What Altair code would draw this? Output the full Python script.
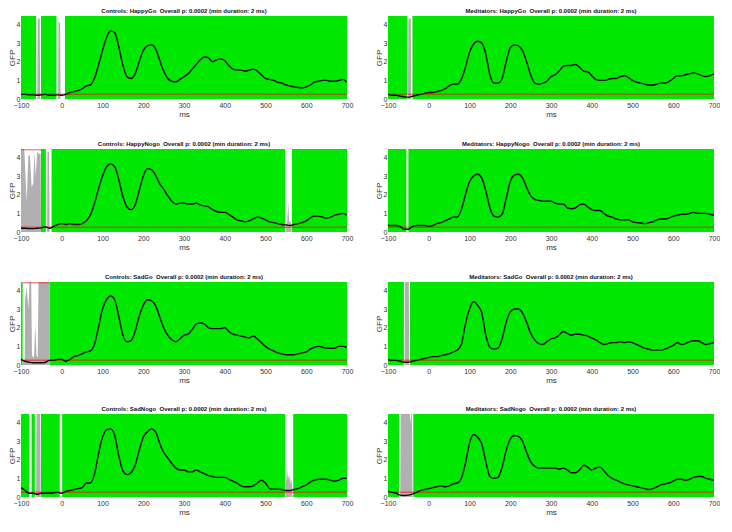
import altair as alt
import pandas as pd

# ---------------- data ----------------
XS = list(range(-100, 701, 10))
YMAX = 4.45
THR = 0.25
GREEN = "#00e800"

TITLES = [
    "Controls: HappyGo\u00a0 Overall p: 0.0002 (min duration: 2 ms)",
    "Meditators: HappyGo\u00a0 Overall p: 0.0002 (min duration: 2 ms)",
    "Controls: HappyNogo\u00a0 Overall p: 0.0002 (min duration: 2 ms)",
    "Meditators: HappyNogo\u00a0 Overall p: 0.0002 (min duration: 2 ms)",
    "Controls: SadGo\u00a0 Overall p: 0.0002 (min duration: 2 ms)",
    "Meditators: SadGo\u00a0 Overall p: 0.0002 (min duration: 2 ms)",
    "Controls: SadNogo\u00a0 Overall p: 0.0002 (min duration: 2 ms)",
    "Meditators: SadNogo\u00a0 Overall p: 0.0002 (min duration: 2 ms)",
]

gfp_ctrl_happygo = [0.25, 0.25, 0.22, 0.22, 0.2, 0.22, 0.25, 0.2, 0.2, 0.22, 0.2, 0.25, 0.35, 0.4, 0.45, 0.55, 0.7, 0.75, 1.1, 1.8,
                    2.6, 3.3, 3.65, 3.55, 2.8, 1.8, 1.2, 1.1, 1.35, 2.0, 2.6, 2.85, 2.9, 2.7, 2.1, 1.5, 1.1, 0.95, 0.92, 1.05,
                    1.2, 1.35, 1.6, 1.85, 2.1, 2.25, 2.2, 2.0, 2.1, 2.15, 2.05, 1.8, 1.6, 1.55, 1.55, 1.5, 1.55, 1.6, 1.5, 1.3,
                    1.1, 1.05, 1.0, 0.9, 0.85, 0.75, 0.7, 0.65, 0.62, 0.6, 0.65, 0.75, 0.9, 0.95, 1.0, 1.0, 0.95, 0.95, 1.0, 1.05, 0.9]
gfp_med_happygo = [0.25, 0.2, 0.2, 0.15, 0.12, 0.1, 0.15, 0.2, 0.25, 0.3, 0.35, 0.35, 0.4, 0.45, 0.55, 0.7, 0.8, 0.8, 1.05, 1.7,
                   2.5, 2.95, 3.1, 3.0, 2.4, 1.3, 0.85, 0.85, 1.1, 2.0, 2.75, 2.9, 2.85, 2.6, 2.0, 1.3, 0.85, 0.8, 0.85, 0.95,
                   1.2, 1.3, 1.5, 1.75, 1.8, 1.8, 1.85, 1.7, 1.5, 1.45, 1.25, 1.05, 1.0, 1.0, 1.05, 1.1, 1.1, 1.2, 1.25, 1.15,
                   1.0, 0.9, 0.85, 0.8, 0.75, 0.75, 0.8, 0.85, 0.85, 0.95, 1.1, 1.25, 1.25, 1.3, 1.35, 1.4, 1.35, 1.25, 1.2, 1.25, 1.35]
gfp_ctrl_happynogo = [0.2, 0.2, 0.18, 0.18, 0.2, 0.22, 0.28, 0.2, 0.3, 0.4, 0.45, 0.4, 0.45, 0.4, 0.4, 0.45, 0.6, 0.9, 1.5, 2.3,
                      3.0, 3.5, 3.65, 3.5, 2.8, 1.9, 1.35, 1.2, 1.45, 2.2, 3.0, 3.4, 3.35, 3.05, 2.6, 2.3, 1.95, 1.65, 1.5, 1.55,
                      1.55, 1.5, 1.5, 1.55, 1.45, 1.4, 1.35, 1.2, 1.1, 1.05, 1.05, 0.95, 0.8, 0.65, 0.6, 0.55, 0.6, 0.7, 0.8, 0.75,
                      0.65, 0.55, 0.5, 0.45, 0.4, 0.38, 0.35, 0.4, 0.45, 0.5, 0.6, 0.75, 0.85, 0.85, 0.8, 0.75, 0.8, 0.9, 0.95, 1.0, 0.9]
gfp_med_happynogo = [0.35, 0.35, 0.35, 0.3, 0.15, 0.15, 0.3, 0.35, 0.35, 0.35, 0.3, 0.35, 0.45, 0.5, 0.6, 0.7, 0.8, 0.8, 1.2, 2.0,
                     2.7, 3.0, 3.1, 2.9, 2.2, 1.3, 0.85, 0.8, 0.95, 1.8, 2.7, 3.05, 3.1, 2.9, 2.4, 1.95, 1.75, 1.7, 1.65, 1.65,
                     1.65, 1.55, 1.5, 1.5, 1.3, 1.25, 1.3, 1.45, 1.5, 1.35, 1.2, 1.15, 1.15, 1.0, 0.85, 0.8, 0.7, 0.65, 0.65, 0.65,
                     0.55, 0.5, 0.48, 0.45, 0.5, 0.55, 0.65, 0.7, 0.7, 0.75, 0.85, 0.9, 0.95, 0.95, 1.0, 1.05, 1.0, 1.0, 1.0, 0.95, 0.9]
gfp_ctrl_sadgo = [0.3, 0.2, 0.15, 0.12, 0.12, 0.12, 0.15, 0.25, 0.25, 0.3, 0.3, 0.2, 0.3, 0.45, 0.5, 0.6, 0.7, 0.75, 1.1, 2.0,
                  3.0, 3.5, 3.7, 3.5, 2.6, 1.6, 1.25, 1.3, 1.8, 2.6, 3.2, 3.5, 3.45, 3.2, 2.6, 2.0, 1.6, 1.35, 1.25, 1.4,
                  1.6, 1.65, 1.9, 2.2, 2.25, 2.2, 2.0, 1.95, 1.95, 1.95, 2.0, 1.8, 1.65, 1.6, 1.55, 1.5, 1.45, 1.55, 1.4, 1.2,
                  1.0, 0.85, 0.75, 0.65, 0.6, 0.55, 0.55, 0.55, 0.6, 0.65, 0.7, 0.85, 0.95, 1.0, 0.95, 0.9, 0.9, 0.9, 1.0, 1.0, 0.95]
gfp_med_sadgo = [0.3, 0.25, 0.25, 0.2, 0.15, 0.15, 0.2, 0.25, 0.3, 0.35, 0.4, 0.45, 0.45, 0.5, 0.55, 0.6, 0.7, 0.8, 1.1, 2.2,
                 3.0, 3.4, 3.2, 2.8, 1.6, 0.95, 0.85, 0.9, 1.4, 2.3, 2.85, 3.0, 3.0, 2.8, 2.3, 1.7, 1.35, 1.15, 1.1, 1.25,
                 1.4, 1.45, 1.6, 1.8, 1.7, 1.6, 1.65, 1.65, 1.6, 1.55, 1.45, 1.35, 1.2, 1.1, 1.15, 1.2, 1.2, 1.25, 1.2, 1.25,
                 1.2, 1.1, 1.0, 0.9, 0.85, 0.8, 0.8, 0.8, 0.85, 0.95, 1.05, 1.2, 1.1, 1.15, 1.25, 1.3, 1.3, 1.2, 1.1, 1.15, 1.2]
gfp_ctrl_sadnogo = [0.5, 0.35, 0.2, 0.2, 0.15, 0.2, 0.2, 0.2, 0.22, 0.25, 0.2, 0.3, 0.35, 0.4, 0.45, 0.5, 0.75, 0.75, 1.2, 2.3,
                    3.2, 3.6, 3.65, 3.3, 2.2, 1.4, 1.2, 1.3, 1.7, 2.5, 3.2, 3.5, 3.65, 3.5, 2.9, 2.4, 2.1, 1.8, 1.55, 1.45,
                    1.45, 1.35, 1.35, 1.45, 1.35, 1.25, 1.15, 1.1, 1.05, 1.05, 1.05, 0.95, 0.85, 0.75, 0.6, 0.55, 0.55, 0.6, 0.75, 0.9,
                    0.75, 0.45, 0.42, 0.42, 0.4, 0.35, 0.35, 0.4, 0.45, 0.55, 0.65, 0.8, 0.9, 0.95, 0.95, 0.95, 0.9, 0.85, 0.9, 1.0, 1.0]
gfp_med_sadnogo = [0.3, 0.25, 0.2, 0.1, 0.08, 0.1, 0.15, 0.25, 0.35, 0.4, 0.45, 0.5, 0.55, 0.6, 0.55, 0.6, 0.7, 0.75, 1.0, 1.8,
                   2.9, 3.35, 3.2, 2.85, 1.9, 1.1, 1.0, 1.05, 1.6, 2.5, 3.1, 3.3, 3.25, 3.0, 2.4, 1.9, 1.65, 1.55, 1.55, 1.55,
                   1.55, 1.55, 1.5, 1.55, 1.45, 1.3, 1.3, 1.45, 1.7, 1.6, 1.45, 1.55, 1.6, 1.4, 1.15, 1.0, 0.9, 0.8, 0.7, 0.65,
                   0.6, 0.55, 0.5, 0.45, 0.4, 0.45, 0.55, 0.65, 0.7, 0.75, 0.85, 0.95, 0.95, 0.9, 0.95, 1.05, 1.1, 1.1, 1.0, 0.95, 0.9]

# non-significant intervals (white), [start, end] in ms
white_ctrl_happygo = [(-63, -51), (-13, 8)]
white_med_happygo = [(-53, -40)]
white_ctrl_happynogo = [(-100, -51), (-39, -25), (548, 565)]
white_med_happynogo = [(-55, -50)]
white_ctrl_sadgo = [(-96, -30)]
white_med_sadgo = [(-61, -46)]
white_ctrl_sadnogo = [(-80, -74), (-66, -51), (-5, 1), (548, 568)]
white_med_sadnogo = [(-73, -38)]

# gray curve inside the white intervals: (segment, ms, value)
gray_ctrl_happygo = [(1, -60, 0), (1, -59, 4.3), (1, -54, 4.3), (1, -53, 0),
                     (2, -9, 0), (2, -8, 4.1), (2, -4, 4.1), (2, -3, 0)]
gray_med_happygo = [(1, -51, 0), (1, -50, 4.3), (1, -44, 4.3), (1, -43, 0)]
gray_ctrl_happynogo = [(1, -100, 4.45), (1, -92, 4.45), (1, -86, 1.6), (1, -82, 4.1), (1, -78, 4.1), (1, -74, 2.4),
                       (1, -70, 2.6), (1, -67, 4.3), (1, -64, 3.0), (1, -60, 4.3), (1, -56, 4.2), (1, -52, 4.2), (1, -51, 0),
                       (2, -36, 0), (2, -35, 4.3), (2, -31, 4.3), (2, -30, 0),
                       (3, 549, 0.4), (3, 553, 0.5), (3, 556, 1.6), (3, 558, 0.6), (3, 562, 0.5), (3, 564, 0.4)]
gray_med_happynogo = []
gray_ctrl_sadgo = [(1, -96, 0.2), (1, -91, 0.3), (1, -90, 3.5), (1, -86, 4.2), (1, -82, 3.0), (1, -79, 4.45),
                   (1, -75, 4.45), (1, -73, 0.5), (1, -68, 0.4), (1, -65, 2.2), (1, -62, 0.5), (1, -59, 0.4),
                   (1, -57, 4.45), (1, -30, 4.45)]
gray_med_sadgo = [(1, -59, 0), (1, -58, 4.45), (1, -49, 4.45), (1, -48, 0)]
gray_ctrl_sadnogo = [(1, -63, 0), (1, -62, 4.45), (1, -53, 4.45), (1, -52, 0),
                     (2, 549, 0.5), (2, 553, 1.6), (2, 555, 0.9), (2, 558, 1.2), (2, 561, 0.7), (2, 563, 1.0), (2, 566, 0.5)]
gray_med_sadnogo = [(1, -70, 0), (1, -69, 4.45), (1, -46, 4.45), (1, -45, 3.9), (1, -43, 4.45), (1, -41, 4.45), (1, -40, 0)]

# red line along the top of fully non-significant stretches
top_ctrl_happynogo = [(-100, -51)]
top_ctrl_sadgo = [(-96, -30)]

PANELS = [
    (TITLES[0], gfp_ctrl_happygo, white_ctrl_happygo, gray_ctrl_happygo, []),
    (TITLES[1], gfp_med_happygo, white_med_happygo, gray_med_happygo, []),
    (TITLES[2], gfp_ctrl_happynogo, white_ctrl_happynogo, gray_ctrl_happynogo, top_ctrl_happynogo),
    (TITLES[3], gfp_med_happynogo, white_med_happynogo, gray_med_happynogo, []),
    (TITLES[4], gfp_ctrl_sadgo, white_ctrl_sadgo, gray_ctrl_sadgo, top_ctrl_sadgo),
    (TITLES[5], gfp_med_sadgo, white_med_sadgo, gray_med_sadgo, []),
    (TITLES[6], gfp_ctrl_sadnogo, white_ctrl_sadnogo, gray_ctrl_sadnogo, []),
    (TITLES[7], gfp_med_sadnogo, white_med_sadnogo, gray_med_sadnogo, []),
]

W, H = 326, 83
FONT = "Liberation Sans"

xs = alt.Scale(domain=[-100, 700], nice=False, zero=False)
ys = alt.Scale(domain=[0, YMAX], nice=False, zero=False)
XAXIS = alt.Axis(values=list(range(-100, 701, 100)), title="ms", labelFlush=False, labelPadding=2, titlePadding=2)
YAXIS = alt.Axis(values=[0, 1, 2, 3, 4], title="GFP", labelPadding=1, titlePadding=0)


def panel(title, gfp, white, gray, top):
    layers = []
    wdf = pd.DataFrame(white, columns=["start", "end"])
    layers.append(
        alt.Chart(wdf).mark_rect(color="white").encode(
            x=alt.X("start:Q", scale=xs, axis=XAXIS),
            x2="end:Q",
            y=alt.Y(datum=0, scale=ys, axis=YAXIS),
            y2=alt.Y2(datum=YMAX),
        )
    )
    if gray:
        gdf = pd.DataFrame(gray, columns=["seg", "ms", "p"])
        layers.append(
            alt.Chart(gdf).mark_area(color="#b0b0b0", clip=True).encode(
                x=alt.X("ms:Q", scale=xs, axis=XAXIS),
                y=alt.Y("p:Q", scale=ys, axis=YAXIS, stack=None),
                detail="seg:N",
            )
        )
    layers.append(
        alt.Chart(pd.DataFrame({"thr": [THR]})).mark_rule(color="red", opacity=0.5, strokeWidth=1.5).encode(
            y=alt.Y("thr:Q", scale=ys, axis=YAXIS)
        )
    )
    if top:
        tdf = pd.DataFrame(top, columns=["start", "end"])
        layers.append(
            alt.Chart(tdf).mark_rule(color="red", opacity=0.45, strokeWidth=1.5).encode(
                x=alt.X("start:Q", scale=xs, axis=XAXIS),
                x2="end:Q",
                y=alt.Y(datum=YMAX - 0.04, scale=ys, axis=YAXIS),
            )
        )
    ldf = pd.DataFrame({"ms": XS, "gfp": gfp})
    layers.append(
        alt.Chart(ldf).mark_line(color="#0a0a0a", strokeWidth=1.4, interpolate="monotone", clip=True).encode(
            x=alt.X("ms:Q", scale=xs, axis=XAXIS),
            y=alt.Y("gfp:Q", scale=ys, axis=YAXIS),
        )
    )
    return alt.layer(*layers).properties(width=W, height=H, title=alt.TitleParams(title))


rows = []
for i in range(0, 8, 2):
    rows.append(alt.hconcat(panel(*PANELS[i]), panel(*PANELS[i + 1]), spacing=22))

chart = (
    alt.vconcat(*rows, spacing=22)
    .properties(padding=0, background="white")
    .configure_view(fill=GREEN, stroke=None)
    .configure_axis(
        grid=False, domain=False, ticks=False,
        labelFont=FONT, labelFontSize=7, labelColor="#333333",
        titleFont=FONT, titleFontSize=8, titleFontWeight="normal", titleColor="#333333",
    )
    .configure_title(font=FONT, fontSize=6, fontWeight="bold", color="#111111", offset=2, anchor="middle")
)

chart.save("out.html", embed_options={"renderer": "svg", "actions": False})
